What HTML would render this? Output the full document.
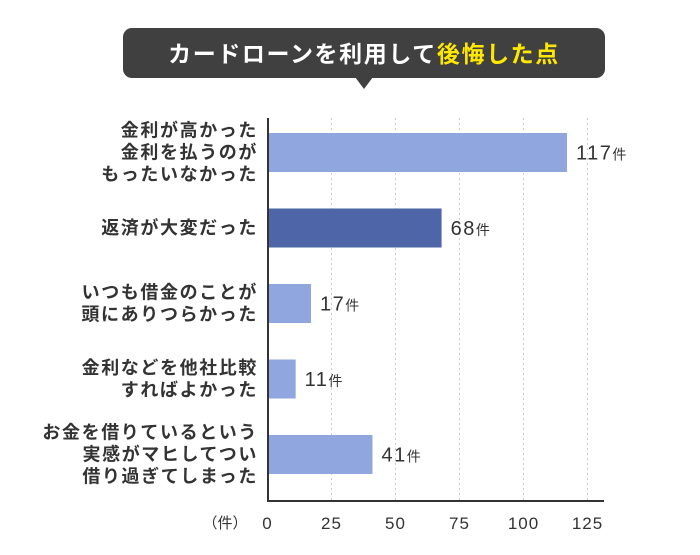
<!DOCTYPE html>
<html><head><meta charset="utf-8"><style>
body{margin:0;background:#fff;}
svg text{font-family:"Liberation Sans","Noto Sans CJK JP",sans-serif;}
</style></head><body>
<svg width="700" height="550" viewBox="0 0 700 550">
<g>
<rect x="123" y="28" width="482" height="50" rx="9" fill="#404040"/>
<polygon points="355,77 373,77 364,89" fill="#404040"/>
<text x="364" y="62" text-anchor="middle" font-size="23" font-weight="bold" letter-spacing="1.6" fill="#fff">カードローンを利用して<tspan fill="#ffe800">後悔した点</tspan></text>
</g>
<g id="grid"></g>
<g id="bars"></g>
<line x1="268" y1="118" x2="268" y2="501" stroke="#333" stroke-width="2"/>
<line x1="267" y1="501" x2="604" y2="501" stroke="#333" stroke-width="2"/>
<text x="225" y="528" text-anchor="middle" font-size="15" fill="#333">（件）</text>
<g id="ticks"></g>
<g id="labels"></g>
</svg>
<script>
const categories=[["金利が高かった","金利を払うのが","もったいなかった"],["返済が大変だった"],["いつも借金のことが","頭にありつらかった"],["金利などを他社比較","すればよかった"],["お金を借りているという","実感がマヒしてつい","借り過ぎてしまった"]];
const values=[117,68,17,11,41];
const ticks=[0,25,50,75,100,125];
const x0=267.5, ppu=2.56, top0=133, step=75.5, bh=39;
const xs=v=>x0+v*ppu;
const NS="http://www.w3.org/2000/svg";
function mk(t,a,p){const e=document.createElementNS(NS,t);for(const k in a)e.setAttribute(k,a[k]);p.appendChild(e);return e;}
const grid=document.getElementById('grid'),bars=document.getElementById('bars'),tk=document.getElementById('ticks'),lb=document.getElementById('labels');
ticks.forEach(t=>{
 if(t>0){const l=mk('line',{x1:xs(t),x2:xs(t),y1:118,y2:500,stroke:'#ccc','stroke-dasharray':'2,3'},grid);
 
 }
 const tx=mk('text',{x:xs(t),y:529,'text-anchor':'middle','font-size':17,'letter-spacing':1,fill:'#333'},tk);
 tx.textContent=t;
 
 
});
values.forEach((v,i)=>{
 const y=top0+i*step;
 const r=mk('rect',{x:x0+1,y:y,width:v*ppu-1,height:bh,fill:i===1?'#4e66a8':'#8fa7de'},bars);
 
 
 const t=mk('text',{x:xs(v)+9,y:y+bh/2+7,'font-size':20,'letter-spacing':1.5,fill:'#333'},bars);
 t.innerHTML=v+'<tspan font-size="14" letter-spacing="0">件</tspan>';
 
 
 const lines=categories[i];const lh=22;
 const sy=y+bh/2-(lines.length-1)*lh/2+6;
 lines.forEach((s,j)=>{
  const c=mk('text',{x:258,y:sy+j*lh,'text-anchor':'end','font-size':18,'letter-spacing':1.6,'font-weight':'bold',fill:'#333'},lb);
  c.textContent=s;
  
  
 });
});
</script>
</body></html>
